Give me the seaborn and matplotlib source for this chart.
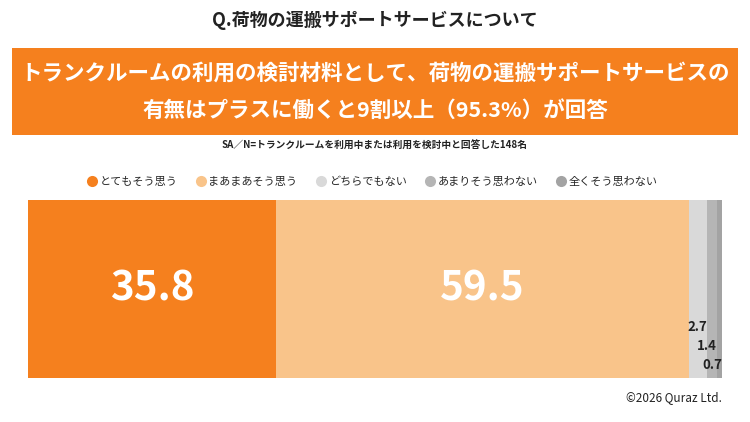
import numpy as np
import pandas as pd
import matplotlib.pyplot as plt
from matplotlib.lines import Line2D
from matplotlib.patches import Rectangle
import seaborn as sns

categories = ["とてもそう思う", "まあまあそう思う", "どちらでもない", "あまりそう思わない", "全くそう思わない"]
values = [35.8, 59.5, 2.7, 1.4, 0.7]
colors = ["#F5801E", "#F9C48A", "#D9D9D9", "#B5B5B5", "#A3A3A3"]

title = "Q.荷物の運搬サポートサービスについて"
headline = "トランクルームの利用の検討材料として、荷物の運搬サポートサービスの\n有無はプラスに働くと9割以上（95.3%）が回答"
note = "SA／N=トランクルームを利用中または利用を検討中と回答した148名"
credit = "©2026 Quraz Ltd."

sns.set_style("white")
plt.rcParams["font.family"] = ["Noto Sans CJK JP", "DejaVu Sans"]

df = pd.DataFrame({"cat": categories, "val": values, "color": colors})
df["cum"] = df["val"].cumsum()
df["q"] = "all"

fig = plt.figure(figsize=(7.5, 4.22), dpi=100)
ax = fig.add_axes([0.0373, 0.1043, 0.9253, 0.4218])

# stacked bar: draw cumulative totals from largest to smallest
for _, r in df.iloc[::-1].iterrows():
    sns.barplot(x=[r["cum"]], y=[r["q"]], color=r["color"], width=1.0,
                saturation=1, ax=ax, orient="h", linewidth=0)

ax.set_xlim(0, df["cum"].iloc[-1])
ax.set_ylim(0.5, -0.5)
ax.axis("off")

# big labels
for i in [0, 1]:
    mid = df["cum"].iloc[i] - df["val"].iloc[i] / 2
    ax.text(mid, 0.5, f"{df['val'].iloc[i]:.1f}", transform=ax.get_xaxis_transform(),
            ha="center", va="center", color="white", fontsize=29, fontweight="bold")
# small labels
for i, yy in zip([2, 3, 4], [0.287, 0.18, 0.073]):
    ax.text(df["cum"].iloc[i], yy, f"{df['val'].iloc[i]:.1f}", transform=ax.get_xaxis_transform(),
            ha="right", va="center", color="#222222", fontsize=9.5, fontweight="bold")

# title and banner
fig.text(0.5, 0.952, title, ha="center", va="center", fontsize=13, fontweight="bold", color="#222222")
fig.patches.append(Rectangle((0.016, 1 - 135 / 422), 0.968, 87 / 422, transform=fig.transFigure,
                             facecolor="#F5801E", edgecolor="none"))
fig.text(0.5, 1 - 92 / 422, headline, ha="center", va="center", fontsize=15.5, fontweight="bold",
         color="white", linespacing=1.95)
fig.text(0.5, 1 - 146 / 422, note, ha="center", va="center", fontsize=7, fontweight="bold", color="#222222")

handles = [Line2D([0], [0], marker="o", linestyle="none", markersize=8,
                  markerfacecolor=c, markeredgecolor="none") for c in colors]
fig.legend(handles, categories, loc="center", bbox_to_anchor=(0.496, 1 - 182 / 422), ncol=5,
           frameon=False, fontsize=8, handletextpad=0.2, columnspacing=1.6, handlelength=1.0)

fig.text(0.963, 1 - 398 / 422, credit, ha="right", va="center", fontsize=8.5, color="#222222")

fig.savefig("out.png", dpi=100)
